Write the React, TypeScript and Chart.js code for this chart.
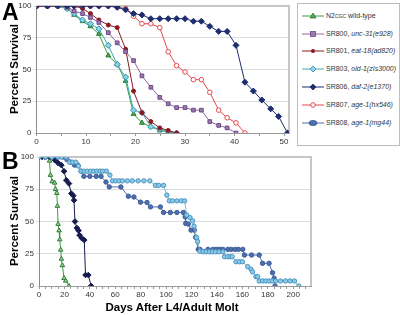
import React, { useEffect, useRef } from "react";
import { Chart, registerables } from "chart.js";
Chart.register(...registerables);

// ---------- Panel A data (days, % survival) ----------
const A_DAYS = [0, 2.2, 4.3, 6.2, 7.6, 9.3, 10.9, 12.6, 14.5, 16.3, 18.0, 19.6, 21.3, 23.1, 24.9, 26.6, 28.3, 30.0, 31.7, 33.3, 35.0, 36.8, 38.5, 40.3, 42.1, 43.8, 45.5, 47.3, 48.9, 50.7];
const A_N2 = [100, 100, 100, 98, 93, 88, 84, 78, 61, 54, 41, 15, 8, 5, 2, 1, 0];
const A_UNC31 = [100, 100, 100, 99, 96, 94, 91, 87, 79, 71, 64, 57, 45, 36, 28, 23, 20, 20, 18, 18, 9, 6, 4, 0];
const A_EAT18 = [100, 100, 100, 100, 100, 98, 94, 89, 85, 83, 66, 33, 16, 9, 4, 2, 0];
const A_OLD1 = [100, 100, 100, 98, 94, 89, 86, 82, 69, 54, 44, 18, 16, 5, 3, 1, 0];
const A_DAF2 = [100, 100, 100, 100, 100, 100, 100, 100, 100, 99, 97, 94, 93, 90, 90, 90, 90, 90, 88, 88, 84, 80, 80, 69, 40, 33, 26, 19, 13, 0];
const A_HX546 = [100, 100, 100, 100, 100, 100, 100, 100, 100, 99, 98, 92, 86, 86, 83, 64, 53, 48, 42, 42, 32, 18, 12, 8, 0];
const A_X_TICKS = [0, 5, 10, 15, 20, 25, 30, 35, 40, 45, 50];

// ---------- Panel B data ----------
const B_N2_DAYS = [0, 2, 4, 6, 7.5, 8.3, 9.0, 10.4, 12.3, 13.0, 14.0, 14.5, 15.0, 15.8, 16.3, 17.1, 17.6, 18.4, 19.7, 21.0, 23.6];
const B_N2 = [100, 100, 100, 100, 100, 97, 86, 81, 80, 75, 72, 62, 48, 43, 36, 28, 21, 16, 6, 4, 0];
const B_DAF2_DAYS = [0, 2.5, 5, 8.6, 12.5, 15, 17.6, 19.7, 21.5, 23.6, 25.4, 27.0, 27.5, 28.3, 29.8, 31.1, 31.9, 33.7, 35.6, 36.6, 38.8, 41];
const B_DAF2 = [100, 100, 100, 100, 97.5, 95.4, 93.7, 89, 82, 79.4, 71.7, 70, 66.5, 50, 45, 43, 39.4, 37, 35.6, 8.5, 8.5, 0];
const B_MG44_DAYS = [0, 5, 10, 15, 19, 22, 25, 28, 30.6, 33.2, 35.3, 40, 45, 48.8, 52.7, 55.3, 64.4, 70.3, 74.7, 79.9, 85, 87.7, 95.5, 98, 103.3, 108.5, 113.6, 115, 115.4, 117.5, 119.6, 122.2, 123.2, 125.3, 126.6, 133, 136.9, 139.5, 142.1, 144.7, 148.6, 151.2, 154.3, 156.9, 160.3, 161.6, 167.3, 173.3, 175.9, 181, 183.7, 185, 185.7];
const B_MG44 = [100, 100, 100, 100, 100, 98, 96, 93.7, 93.6, 89, 85, 85, 85, 85, 80.6, 76.8, 76.8, 69.6, 69, 65, 64.7, 61.3, 61.3, 57, 57, 57, 57, 53.6, 48.5, 48, 43.3, 43.3, 37.7, 28.4, 28.4, 28.4, 28.4, 28.4, 28.4, 28.4, 28.4, 28.4, 28.4, 28.4, 28.4, 24, 24, 24, 17.6, 17.6, 10.3, 6, 0];
const B_MG44B_DAYS = [0, 5, 10, 15, 17.6, 21.5, 24, 26.5, 29, 31, 33, 35.5, 38, 40.5, 43, 45.5, 48, 50, 53, 55.8, 57.8, 60.4, 63, 65.6, 69.5, 73.4, 78, 82.5, 87.2, 91.6, 94.2, 98, 100.6, 102.5, 105, 108.5, 112, 114.6, 116.2, 118.8, 120.8, 122, 124, 124.8, 126.6, 129, 131.5, 134, 136.5, 139, 141.5, 144.7, 146, 148.5, 150.5, 152, 155, 157.6, 160, 164.2, 166.8, 168, 170.7, 172, 173.3, 176, 178.5, 181, 183.5, 186.2, 190, 194, 197.5, 201, 204.4];
const B_MG44B = [100, 100, 100, 100, 100, 100, 96, 96, 96, 93, 89, 89, 89, 89, 89, 89, 89, 89, 89, 86, 81.5, 81.5, 81.5, 81.5, 81.5, 81.5, 81.5, 81.5, 81.5, 78, 78, 78, 70.4, 66, 66, 66, 66, 66, 55, 53, 50.5, 46.4, 37.7, 34.5, 27, 26.5, 26.5, 26.5, 26.5, 26.5, 26.5, 26.5, 22.7, 22.7, 22.7, 22.7, 18.8, 18.8, 18.8, 15, 13, 11, 7.2, 7.2, 3.9, 3.9, 3.9, 3.9, 3.9, 3.9, 3.9, 3.9, 3.9, 3.9, 0];
const B_X_TICKS = [0, 5, 10, 15, 20, 25, 30, 35, 40, 45, 50, 55, 60, 65, 70, 75, 80, 85, 90, 95, 100, 105, 110, 115, 120, 125, 130, 135, 140, 145, 150, 155, 160, 165, 170, 175, 180, 185, 190, 195, 200, 205, 210];
const Y_TICKS = [0, 25, 50, 75, 100];

const FONT = "'Liberation Sans', Arial, Helvetica, sans-serif";

const C = {
  n2Line: "#3c9b45", n2Fill: "#49ad4f", n2Border: "#2d7a33", n2FillB: "#9fd79a",
  uncLine: "#9264a8", uncFill: "#9a78b0", uncBorder: "#6f4a85",
  eat: "#8b1a22",
  oldLine: "#3aa9b5", oldFill: "#8fd4e6", oldBorder: "#2f8fb0",
  daf: "#1d2d6e", dafB: "#161c4e",
  hx: "#e5484d",
  mg: "#4e6fad", mgBorder: "#3b5b99",
  cyFill: "#8ccbe3", cyBorder: "#4a94c4", cyLine: "#7fb8d8",
};

function pts(days: number[], surv: number[]) {
  return surv.map((v, i) => ({ x: days[i], y: v }));
}

const framePlugin = {
  id: "frame",
  beforeDatasetsDraw(chart: any) {
    const { ctx, chartArea: a } = chart;
    ctx.save();
    ctx.strokeStyle = "#c6c6c6";
    ctx.lineWidth = 2;
    ctx.beginPath();
    ctx.moveTo(a.left, a.top);
    ctx.lineTo(a.right, a.top);
    ctx.lineTo(a.right, a.bottom);
    ctx.stroke();
    ctx.restore();
  },
};

function ds(label: string, data: any[], line: string, fill: string, border: string, style: string, r: number) {
  return {
    label, data, borderColor: line, borderWidth: 1, tension: 0,
    pointStyle: style, pointRadius: r, pointBackgroundColor: fill,
    pointBorderColor: border, pointBorderWidth: 1, fill: false,
  };
}

function makeOptions(xmax: number, xticks: number[], labelEvery: number, xH: number, yW: number, pad: any) {
  const tickFont = { family: FONT, size: 8, lineHeight: 1 };
  return {
    animation: false, responsive: false, maintainAspectRatio: false,
    layout: { padding: pad },
    plugins: { legend: { display: false }, tooltip: { enabled: false } },
    scales: {
      x: {
        type: "linear", min: 0, max: xmax,
        afterBuildTicks: (s: any) => { s.ticks = xticks.map((v) => ({ value: v })); },
        afterFit: (s: any) => { s.height = xH; },
        ticks: {
          autoSkip: false, maxRotation: 0, minRotation: 0, padding: 2, color: "#333", font: tickFont,
          callback: (v: any) => (Number(v) % labelEvery === 0 ? String(v) : ""),
        },
        grid: { drawOnChartArea: false, tickLength: 3, color: "#999" },
        border: { color: "#999" },
      },
      y: {
        min: 0, max: 100,
        afterBuildTicks: (s: any) => { s.ticks = Y_TICKS.map((v) => ({ value: v })); },
        afterFit: (s: any) => { s.width = yW; },
        ticks: { padding: 2, color: "#333", font: tickFont },
        grid: { color: "#dcdcdc", tickLength: 3 },
        border: { color: "#8a8a8a" },
      },
    },
  };
}

function PanelA() {
  const ref = useRef<HTMLCanvasElement>(null);
  useEffect(() => {
    const chart = new Chart(ref.current as HTMLCanvasElement, {
      type: "line",
      data: {
        datasets: [
          ds("SR806", pts(A_DAYS, A_DAF2), C.daf, C.daf, C.daf, "rectRot", 3),
          ds("SR807", pts(A_DAYS, A_HX546), C.hx, "#ffffff", C.hx, "circle", 2.3),
          ds("SR800", pts(A_DAYS, A_UNC31), C.uncLine, C.uncFill, C.uncBorder, "rect", 2.6),
          ds("SR801", pts(A_DAYS, A_EAT18), C.eat, C.eat, C.eat, "circle", 2),
          ds("SR803", pts(A_DAYS, A_OLD1), C.oldLine, C.oldFill, C.oldBorder, "rectRot", 3),
          ds("N2", pts(A_DAYS, A_N2), C.n2Line, C.n2Fill, C.n2Border, "triangle", 2.8),
        ] as any,
      },
      options: makeOptions(51, A_X_TICKS, 10, 19, 36.5, { left: 0, right: 2, top: 4, bottom: 0 }) as any,
      plugins: [framePlugin],
    });
    return () => chart.destroy();
  }, []);
  return <canvas ref={ref} width={294} height={152} style={{ position: "absolute", left: 0, top: 0, width: 294, height: 152 }} />;
}

function PanelB() {
  const ref = useRef<HTMLCanvasElement>(null);
  useEffect(() => {
    const chart = new Chart(ref.current as HTMLCanvasElement, {
      type: "line",
      data: {
        datasets: [
          ds("age-1 b", pts(B_MG44B_DAYS, B_MG44B), C.cyLine, C.cyFill, C.cyBorder, "circle", 2.2),
          ds("SR808", pts(B_MG44_DAYS, B_MG44), C.mg, C.mg, C.mgBorder, "circle", 2.2),
          ds("SR806", pts(B_DAF2_DAYS, B_DAF2), C.dafB, C.dafB, C.dafB, "rectRot", 2.8),
          ds("N2", pts(B_N2_DAYS, B_N2), C.n2Line, C.n2FillB, C.n2Border, "triangle", 2.6),
        ] as any,
      },
      options: makeOptions(214, B_X_TICKS, 20, 14, 39, { left: 0, right: 2, top: 7, bottom: 0 }) as any,
      plugins: [framePlugin],
    });
    return () => chart.destroy();
  }, []);
  return <canvas ref={ref} width={316} height={150} style={{ position: "absolute", left: 0, top: 150, width: 316, height: 150 }} />;
}

const LEGEND = [
  { name: "N2", sub: "CGC", rest: " wild-type", italic: "", shape: "tri", line: C.n2Line, fill: C.n2Fill, border: C.n2Border },
  { name: "SR800, ", sub: "", rest: "", italic: "unc-31(e928)", shape: "sq", line: C.uncLine, fill: C.uncFill, border: C.uncBorder },
  { name: "SR801, ", sub: "", rest: "", italic: "eat-18(ad820)", shape: "dot", line: C.eat, fill: C.eat, border: C.eat },
  { name: "SR803, ", sub: "", rest: "", italic: "old-1(zIs3000)", shape: "dia", line: C.oldLine, fill: C.oldFill, border: C.oldBorder },
  { name: "SR806, ", sub: "", rest: "", italic: "daf-2(e1370)", shape: "dia", line: C.daf, fill: C.daf, border: C.daf },
  { name: "SR807, ", sub: "", rest: "", italic: "age-1(hx546)", shape: "open", line: C.hx, fill: "#fff", border: C.hx },
  { name: "SR808, ", sub: "", rest: "", italic: "age-1(mg44)", shape: "oval", line: C.mg, fill: C.mg, border: C.mgBorder },
];

function Marker({ shape, fill, border }: any) {
  const cx = 11, cy = 4;
  if (shape === "tri") return <polygon points={`${cx},${cy - 3} ${cx + 3},${cy + 2} ${cx - 3},${cy + 2}`} fill={fill} stroke={border} strokeWidth={0.8} />;
  if (shape === "sq") return <rect x={cx - 2.5} y={cy - 2.5} width={5} height={5} fill={fill} stroke={border} strokeWidth={0.8} />;
  if (shape === "dot") return <circle cx={cx} cy={cy} r={2} fill={fill} />;
  if (shape === "dia") return <polygon points={`${cx},${cy - 3} ${cx + 3},${cy} ${cx},${cy + 3} ${cx - 3},${cy}`} fill={fill} stroke={border} strokeWidth={0.8} />;
  if (shape === "open") return <circle cx={cx} cy={cy} r={2.3} fill="#fff" stroke={border} strokeWidth={1} />;
  return <ellipse cx={cx} cy={cy} rx={4} ry={2.6} fill={fill} stroke={border} strokeWidth={0.8} />;
}

function Legend() {
  return (
    <div style={{ position: "absolute", left: 297, top: 3, width: 101, height: 141, border: "1px solid #bdbdbd", background: "#fff" }}>
      {LEGEND.map((e, i) => (
        <div key={i} style={{ position: "absolute", left: 0, top: 7.7 + i * 17.8, width: 101, height: 8 }}>
          <svg width={22} height={8} style={{ position: "absolute", left: 4, top: 0 }}>
            <line x1={0} y1={4} x2={22} y2={4} stroke={e.line} strokeWidth={1} />
            <Marker shape={e.shape} fill={e.fill} border={e.border} />
          </svg>
          <div style={{ position: "absolute", left: 28, top: 0, fontFamily: FONT, fontSize: 7, lineHeight: "8px", color: "#333", whiteSpace: "nowrap" }}>
            {e.name}
            {e.sub ? <span style={{ fontSize: 5, fontStyle: "italic" }}>{e.sub}</span> : null}
            {e.rest}
            {e.italic ? <i>{e.italic}</i> : null}
          </div>
        </div>
      ))}
    </div>
  );
}

const bold = { fontFamily: FONT, fontWeight: 700 as const, color: "#000", whiteSpace: "nowrap" as const };

export default function App() {
  return (
    <div style={{ position: "fixed", left: 0, top: 0, width: 400, height: 315, background: "#fff", overflow: "hidden" }}>
      <PanelA />
      <PanelB />
      <Legend />
      <div style={{ ...bold, position: "absolute", left: 2, top: 1, fontSize: 23, lineHeight: 1 }}>A</div>
      <div style={{ ...bold, position: "absolute", left: 2, top: 150, fontSize: 23, lineHeight: 1 }}>B</div>
      <div style={{ ...bold, position: "absolute", left: 15, top: 69, fontSize: 11.5, lineHeight: 1, transform: "translate(-50%, -50%) rotate(-90deg)" }}>Percent Survival</div>
      <div style={{ ...bold, position: "absolute", left: 15, top: 221, fontSize: 11.5, lineHeight: 1, transform: "translate(-50%, -50%) rotate(-90deg)" }}>Percent Survival</div>
      <div style={{ ...bold, position: "absolute", left: 172, top: 301.5, fontSize: 11.5, lineHeight: 1, transform: "translateX(-50%)" }}>Days After L4/Adult Molt</div>
    </div>
  );
}
